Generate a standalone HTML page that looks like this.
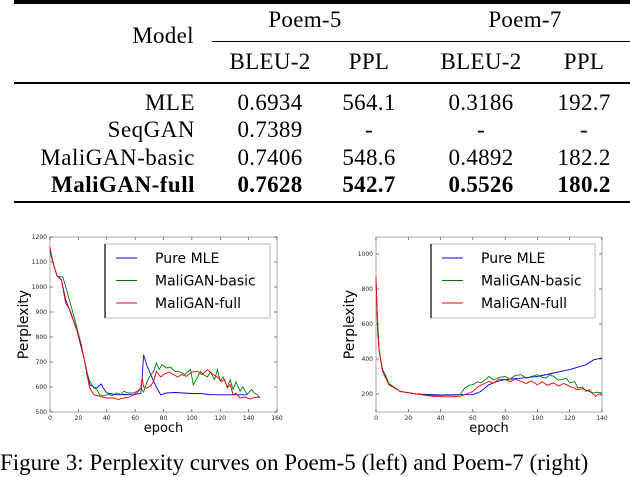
<!DOCTYPE html>
<html><head><meta charset="utf-8"><style>
body{margin:0;width:630px;height:468px;overflow:hidden;background:#fff;font-family:"Liberation Serif",serif;position:relative}
.t{position:absolute;font-size:23px;letter-spacing:0.3px;white-space:nowrap;transform:translate(-50%,-50%)}
.r{position:absolute;font-size:23px;letter-spacing:0.5px;white-space:nowrap;transform:translateY(-50%);text-align:right;right:435px}
.b{font-weight:bold}
.hl{position:absolute;background:#000}
svg{position:absolute;left:0;top:0}
</style></head><body>
<div>
<div class="hl" style="left:14px;top:0px;width:616px;height:4px"></div>
<div class="hl" style="left:212px;top:41px;width:418px;height:1px"></div>
<div class="hl" style="left:14px;top:82px;width:616px;height:2px"></div>
<div class="hl" style="left:14px;top:201px;width:616px;height:2px"></div>
<div class="t" style="left:163px;top:36px">Model</div>
<div class="t" style="left:305px;top:20px">Poem-5</div>
<div class="t" style="left:525px;top:20px">Poem-7</div>
<div class="t" style="left:270px;top:62px">BLEU-2</div>
<div class="t" style="left:369px;top:62px">PPL</div>
<div class="t" style="left:481px;top:62px">BLEU-2</div>
<div class="t" style="left:584px;top:62px">PPL</div>
<div class="r" style="top:103px">MLE</div>
<div class="t" style="left:270px;top:103px">0.6934</div>
<div class="t" style="left:369px;top:103px">564.1</div>
<div class="t" style="left:481px;top:103px">0.3186</div>
<div class="t" style="left:584px;top:103px">192.7</div>
<div class="r" style="top:130px">SeqGAN</div>
<div class="t" style="left:270px;top:130px">0.7389</div>
<div class="t" style="left:369px;top:130px">-</div>
<div class="t" style="left:481px;top:130px">-</div>
<div class="t" style="left:584px;top:130px">-</div>
<div class="r" style="top:158px">MaliGAN-basic</div>
<div class="t" style="left:270px;top:158px">0.7406</div>
<div class="t" style="left:369px;top:158px">548.6</div>
<div class="t" style="left:481px;top:158px">0.4892</div>
<div class="t" style="left:584px;top:158px">182.2</div>
<div class="r b" style="top:185px">MaliGAN-full</div>
<div class="t b" style="left:270px;top:185px">0.7628</div>
<div class="t b" style="left:369px;top:185px">542.7</div>
<div class="t b" style="left:481px;top:185px">0.5526</div>
<div class="t b" style="left:584px;top:185px">180.2</div>
</div>
<svg id="svg" width="630" height="468"></svg>
<div style="position:absolute;left:0;top:449px;font-size:23px;line-height:28px;white-space:nowrap">Figure 3: Perplexity curves on Poem-5 (left) and Poem-7 (right)</div>
<script>
const seriesNames=["Pure MLE","MaliGAN-basic","MaliGAN-full"];
const seriesColors=["#0000ff","#008000","#ff0000"];
// Left chart (Poem-5)
const leftXTicks=[0,20,40,60,80,100,120,140,160];
const leftYTicks=[500,600,700,800,900,1000,1100,1200];
const leftMleX=[0,3,5,8,11,14,19,24,28,31,33,36,38,40,44,47,52,59,64,65,66,68,71,73,75,78,82,88,94,100,106,112,118,124,129,134,139];
const leftMleY=[1150,1080,1045,1030,950,905,825,715,609,600,596,612,592,576,572,569,570,569,575,640,729,690,650,623,600,569,576,578,576,574,574,570,569,569,569,569,569];
const leftBasicX=[0,2,5,9,12,16,19,22,24,26,28,31,33,35,38,41,44,47,50,52,55,59,62,64,66,68,70,73,75,77,79,82,85,88,92,95,99,101,104,106,108,111,113,116,118,120,122,125,127,129,131,134,136,139,142,144,146,148];
const leftBasicY=[1138,1100,1043,1040,983,900,836,770,716,660,623,596,590,569,565,570,566,576,570,583,576,576,585,596,580,616,640,663,696,670,690,676,680,663,660,650,670,609,640,663,650,640,660,630,670,623,640,600,629,590,620,583,600,570,590,575,570,556];
const leftFullX=[0,2,5,8,11,14,17,19,22,24,26,28,31,35,40,45,48,52,56,59,62,64,65,66,68,71,73,75,78,80,84,87,90,93,96,100,104,107,111,113,115,118,121,123,125,127,129,131,134,137,141,144,148];
const leftFullY=[1160,1100,1043,1029,936,909,860,829,770,716,650,596,569,563,556,556,550,556,560,569,580,596,636,600,596,605,623,663,640,650,660,650,640,650,643,660,663,650,669,660,650,640,623,630,596,610,569,575,556,560,552,558,560];
// Right chart (Poem-7)
const rightXTicks=[0,20,40,60,80,100,120,140];
const rightYTicks=[200,400,600,800,1000];
const rightMleX=[0,1,2,4,8,15,25,40,50,60,65,70,75,80,90,100,110,120,130,135,140];
const rightMleY=[850,580,450,335,255,215,200,195,196,196,215,253,272,282,291,300,320,339,367,396,405];
const rightBasicX=[0,1,2,4,6,8,15,25,35,45,52,55,58,60,63,65,68,70,73,76,80,83,86,90,93,96,100,103,105,108,110,113,115,118,120,123,125,128,130,132,134,137,140];
const rightBasicY=[850,620,450,340,305,260,215,200,192,192,195,234,250,253,270,263,285,300,280,295,300,285,305,310,290,300,310,295,291,310,300,280,282,290,263,270,234,240,215,225,206,210,206];
const rightFullX=[0,1,2,4,8,15,25,35,45,52,56,60,63,66,70,73,76,80,83,86,90,93,96,100,103,106,110,113,116,118,121,125,128,132,134,136,138,140];
const rightFullY=[872,558,444,330,253,215,200,187,183,187,200,215,240,255,272,262,285,282,270,285,272,260,275,253,270,250,263,245,260,253,240,225,230,215,205,187,200,192];

const svg=document.getElementById('svg');
const NS='http://www.w3.org/2000/svg';
function mk(tag,attrs,parent){const e=document.createElementNS(NS,tag);for(const k in attrs)e.setAttribute(k,attrs[k]);(parent||svg).appendChild(e);return e;}
function chart(c){
  const g=mk('g',{});
  
  
  const sx=v=>c.x0+(v-c.xmin)/(c.xmax-c.xmin)*(c.x1-c.x0);
  const sy=v=>c.y1-(v-c.ymin)/(c.ymax-c.ymin)*(c.y1-c.y0);
  const frame=mk('rect',{x:c.x0,y:c.y0,width:c.x1-c.x0,height:c.y1-c.y0,fill:'none',stroke:'#999','stroke-width':0.8},g);
  
  
  c.xt.forEach(v=>{const x=sx(v);
    mk('line',{x1:x,x2:x,y1:c.y1,y2:c.y1-3,stroke:'#333','stroke-width':0.6},g);
    mk('line',{x1:x,x2:x,y1:c.y0,y2:c.y0+3,stroke:'#333','stroke-width':0.6},g);
    const t=mk('text',{x:x,y:c.y1+8,'font-size':6,'text-anchor':'middle','font-family':'DejaVu Sans, sans-serif',fill:'#222'},g);
    t.textContent=v;
    
    });
  c.yt.forEach(v=>{const y=sy(v);
    mk('line',{x1:c.x0,x2:c.x0+3,y1:y,y2:y,stroke:'#333','stroke-width':0.6},g);
    mk('line',{x1:c.x1,x2:c.x1-3,y1:y,y2:y,stroke:'#333','stroke-width':0.6},g);
    const t=mk('text',{x:c.x0-3,y:y+2,'font-size':6,'text-anchor':'end','font-family':'DejaVu Sans, sans-serif',fill:'#222'},g);
    t.textContent=v;
    
    });
  c.series.forEach((s,i)=>{
    const pts=s[0].map((x,j)=>sx(x).toFixed(1)+','+sy(s[1][j]).toFixed(1)).join(' ');
    const p=mk('polyline',{points:pts,fill:'none',stroke:seriesColors[i],'stroke-width':0.9},g);
    
    
  });
  const xl=mk('text',{x:(c.x0+c.x1)/2,y:432,'font-size':13,'text-anchor':'middle','font-family':'DejaVu Sans, sans-serif'},g);
  xl.textContent='epoch';
  
  
  const yl=mk('text',{x:0,y:0,'font-size':14,'text-anchor':'middle','font-family':'DejaVu Sans, sans-serif',transform:'translate('+(c.x0-22)+','+((c.y0+c.y1)/2)+') rotate(-90)'},g);
  yl.textContent='Perplexity';
  
  
  const lg=mk('g',{},g);
  
  
  mk('rect',{x:c.lx,y:244,width:c.lw,height:74,fill:'#fff',stroke:'#aaa','stroke-width':0.8},lg);
  mk('line',{x1:c.lx,x2:c.lx,y1:244,y2:318,stroke:'#000','stroke-width':1.2},lg);
  seriesNames.forEach((n,i)=>{const y=258+i*22.5;
    mk('line',{x1:c.lx+11,x2:c.lx+32,y1:y,y2:y,stroke:seriesColors[i],'stroke-width':1},lg);
    const t=mk('text',{x:c.lx+50,y:y+5,'font-size':14,'font-family':'DejaVu Sans, sans-serif'},lg);
    t.textContent=n;
    
    });
}
chart({name:'poem5-chart',x0:50,x1:277,y0:237,y1:412,xmin:0,xmax:160,ymin:500,ymax:1200,xt:leftXTicks,yt:leftYTicks,lx:105,lw:165,
  series:[[leftMleX,leftMleY],[leftBasicX,leftBasicY],[leftFullX,leftFullY]]});
chart({name:'poem7-chart',x0:376,x1:602,y0:237,y1:412,xmin:0,xmax:140,ymin:97,ymax:1097,xt:rightXTicks,yt:rightYTicks,lx:431,lw:164,
  series:[[rightMleX,rightMleY],[rightBasicX,rightBasicY],[rightFullX,rightFullY]]});
</script>
</body></html>
